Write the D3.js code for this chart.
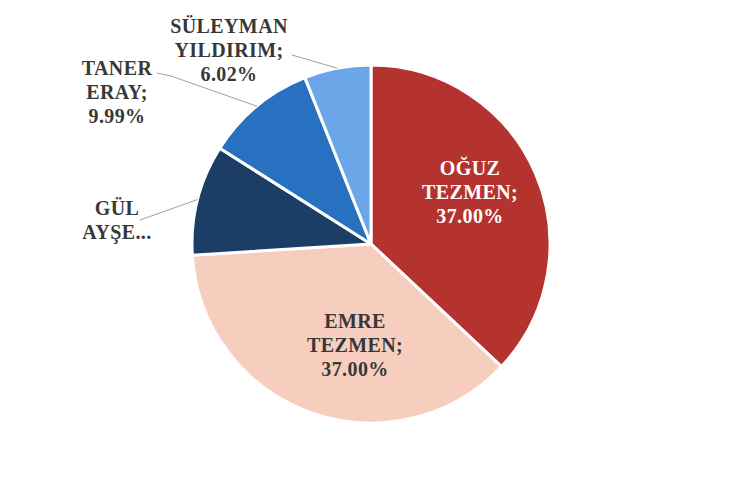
<!DOCTYPE html>
<html>
<head>
<meta charset="utf-8">
<script src="https://cdn.jsdelivr.net/npm/d3@7"></script>
<style>
  body { margin: 0; background: #ffffff; }
  svg { display: block; }
</style>
</head>
<body>
<div id="chart"></div>
<script>
// Slice names and shares (percent), clockwise from 12 o'clock
const names = ["OĞUZ TEZMEN", "EMRE TEZMEN", "GÜL AYŞE...", "TANER ERAY", "SÜLEYMAN YILDIRIM"];
const shares = [37.00, 37.00, 9.99, 9.99, 6.02];
// Label lines as printed on the chart
const labelLines = [
    ["OĞUZ", "TEZMEN;", "37.00%"],
    ["EMRE", "TEZMEN;", "37.00%"],
    ["GÜL", "AYŞE..."],
    ["TANER", "ERAY;", "9.99%"],
    ["SÜLEYMAN", "YILDIRIM;", "6.02%"]
];
const colors = ["#b5332f", "#f7cdbd", "#1c3e66", "#2771c0", "#6aa6e8"];

const width = 729, height = 484;
const cx = 371, cy = 244, radius = 179;

// label placement relative to pie centre (first baseline), leader start point
const labelLayout = [
    { dx: 99, dy: -69, inside: true },
    { dx: -16, dy: 84, inside: true },
    { dx: -254, dy: -29, lead: [[-231, -24]] },
    { dx: -254, dy: -169, lead: [[-214, -171], [-200, -168]] },
    { dx: -142, dy: -211, lead: [[-79, -189]] }
];

const svg = d3.select("#chart").append("svg")
    .attr("width", width)
    .attr("height", height);

const g = svg.append("g").attr("transform", `translate(${cx},${cy})`);

const data = names.map((n, i) => ({ name: n, value: shares[i], i: i }));

const pie = d3.pie().sort(null).value(d => d.value);
const arc = d3.arc().innerRadius(0).outerRadius(radius);
const edgeArc = d3.arc().innerRadius(radius).outerRadius(radius);

const arcs = pie(data);

// slices
g.selectAll("path.slice")
    .data(arcs)
    .join("path")
    .attr("class", "slice")
    .attr("d", arc)
    .attr("fill", d => colors[d.data.i])
    .attr("stroke", "#ffffff")
    .attr("stroke-width", 3)
    .attr("stroke-linejoin", "round");

// leader lines for the outside labels
g.selectAll("polyline.lead")
    .data(arcs.filter(d => labelLayout[d.data.i].lead))
    .join("polyline")
    .attr("class", "lead")
    .attr("fill", "none")
    .attr("stroke", "#a0a0a0")
    .attr("stroke-width", 1)
    .attr("points", d => {
        const pts = labelLayout[d.data.i].lead.slice();
        pts.push(edgeArc.centroid(d));
        return pts.map(p => p.join(",")).join(" ");
    });

// labels
const lineHeight = 24;
const labels = g.selectAll("text.lbl")
    .data(arcs)
    .join("text")
    .attr("class", "lbl")
    .attr("text-anchor", "middle")
    .attr("font-family", "'Liberation Serif', 'Times New Roman', serif")
    .attr("font-weight", "bold")
    .attr("font-size", 20)
    .attr("letter-spacing", 0.4)
    .attr("fill", d => d.data.i === 0 ? "#ffffff" : "#383838")
    .attr("transform", d => {
        const l = labelLayout[d.data.i];
        return `translate(${l.dx},${l.dy})`;
    });

labels.selectAll("tspan")
    .data(d => labelLines[d.data.i])
    .join("tspan")
    .attr("x", 0)
    .attr("y", (t, k) => k * lineHeight)
    .text(t => t);
</script>
</body>
</html>
